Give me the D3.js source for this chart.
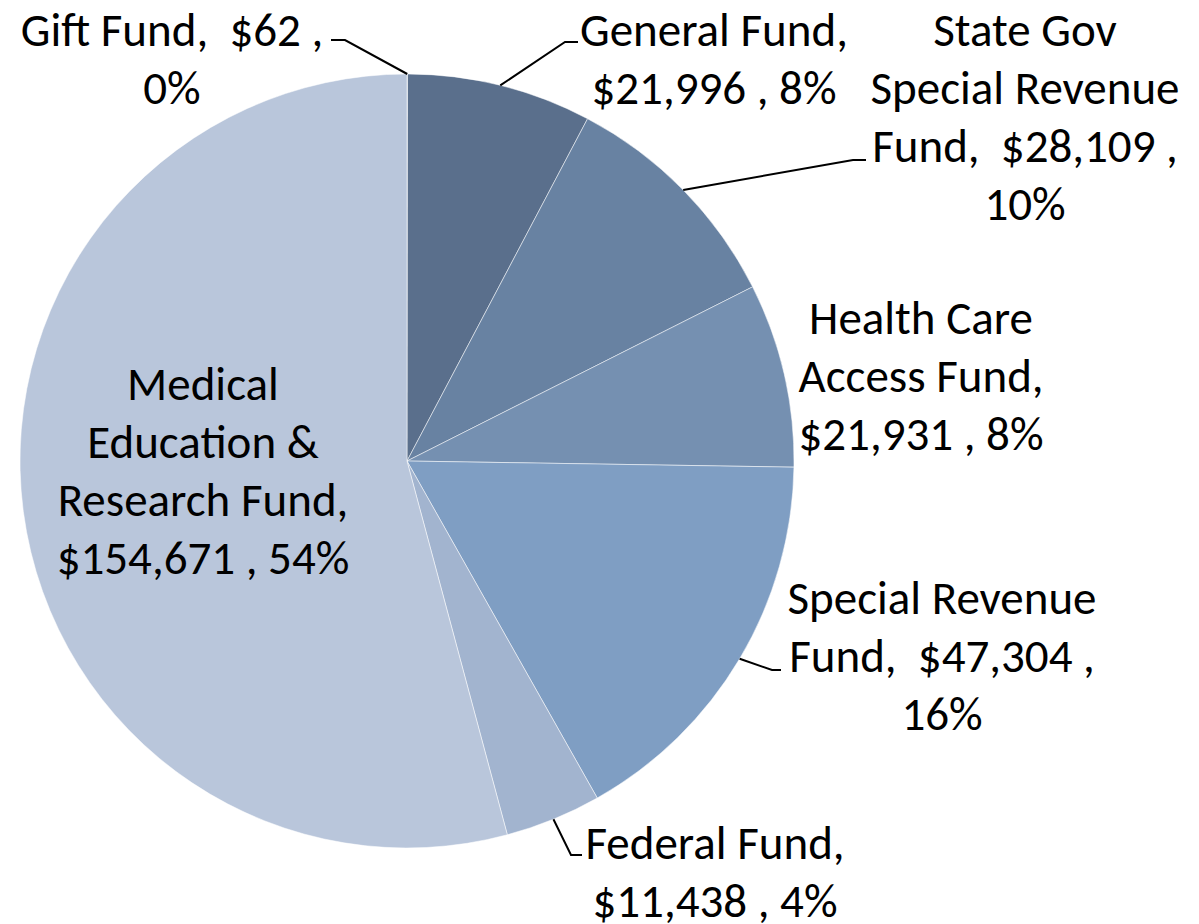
<!DOCTYPE html>
<html>
<head>
<meta charset="utf-8">
<script src="https://cdn.jsdelivr.net/npm/d3@7"></script>
<style>
  body { margin: 0; background: #fff; }
  text { font-family: Carlito, Lato, "Open Sans", sans-serif; white-space: pre; }
</style>
</head>
<body>
<div id="pie"></div>
<script>
// Data
const funds = ["Gift Fund", "General Fund", "State Gov Special Revenue Fund", "Health Care Access Fund",
               "Special Revenue Fund", "Federal Fund", "Medical Education & Research Fund"];
const amounts = [62, 21996, 28109, 21931, 47304, 11438, 154671];
const percents = ["0%", "8%", "10%", "8%", "16%", "4%", "54%"];
const colors = ["#b9c6db", "#5a6f8c", "#6882a2", "#7590b1", "#7f9ec3", "#a2b4cf", "#b9c6db"];

// label lines as shown in the chart
const labelLines = [
    ["Gift Fund,  $62 ,", "0%"],
    ["General Fund,", "$21,996 , 8%"],
    ["State Gov", "Special Revenue", "Fund,  $28,109 ,", "10%"],
    ["Health Care", "Access Fund,", "$21,931 , 8%"],
    ["Special Revenue", "Fund,  $47,304 ,", "16%"],
    ["Federal Fund,", "$11,438 , 4%"],
    ["Medical", "Education &", "Research Fund,", "$154,671 , 54%"]
];

// label layout (centre x, first line y, leader elbow) -- by eye
const labelPos = [
    { x: 172, y: 30, elbow: [345, 40], end: [331, 40] },
    { x: 714, y: 30, elbow: [565, 42], end: [578, 42] },
    { x: 1025, y: 30, elbow: [853, 160], end: [866, 160] },
    { x: 921, y: 318, elbow: null },
    { x: 942, y: 598, elbow: [772, 670], end: [781, 670] },
    { x: 715, y: 843, elbow: [571, 855], end: [582, 855] },
    { x: 203, y: 384, elbow: null }
];

const data = funds.map((f, i) => ({ fund: f, amount: amounts[i], i: i }));

const width = 1199, height = 924;
const cx = 407, cy = 461, radius = 387;
const lineH = 58, fontSize = 47;

const svg = d3.select("#pie")
              .append("svg")
              .attr("width", width)
              .attr("height", height);

const g = svg.append("g")
             .attr("transform", `translate(${cx},${cy})`);

const pie = d3.pie()
              .value(d => d.amount)
              .sort(null);

const arc = d3.arc()
              .innerRadius(0)
              .outerRadius(radius);

// edge arc for leader start points
const edgeArc = d3.arc()
                  .innerRadius(radius)
                  .outerRadius(radius);

const arcs = pie(data);

g.selectAll("path.slice")
 .data(arcs)
 .enter()
 .append("path")
 .attr("class", "slice")
 .attr("d", arc)
 .attr("fill", d => colors[d.data.i])
 .attr("stroke", "#ffffff")
 .attr("stroke-opacity", 0.5)
 .attr("stroke-width", 1);

// leader lines
arcs.forEach(a => {
    const p = labelPos[a.data.i];
    if (!p.elbow) return;
    const start = edgeArc.centroid(a);
    const pts = [[start[0] + cx, start[1] + cy], p.elbow, p.end];
    svg.append("path")
       .attr("d", d3.line()(pts))
       .attr("fill", "none")
       .attr("stroke", "#000")
       .attr("stroke-width", 2);
});

// labels
labelLines.forEach((lines, i) => {
    const p = labelPos[i];
    const t = svg.append("text")
                 .attr("text-anchor", "middle")
                 .style("font-size", fontSize + "px")
                 .attr("fill", "#000");
    lines.forEach((ln, k) => {
        t.append("tspan")
         .attr("x", p.x)
         .attr("y", p.y + k * lineH + fontSize * 0.35)
         .text(ln);
    });
});
</script>
</body>
</html>
